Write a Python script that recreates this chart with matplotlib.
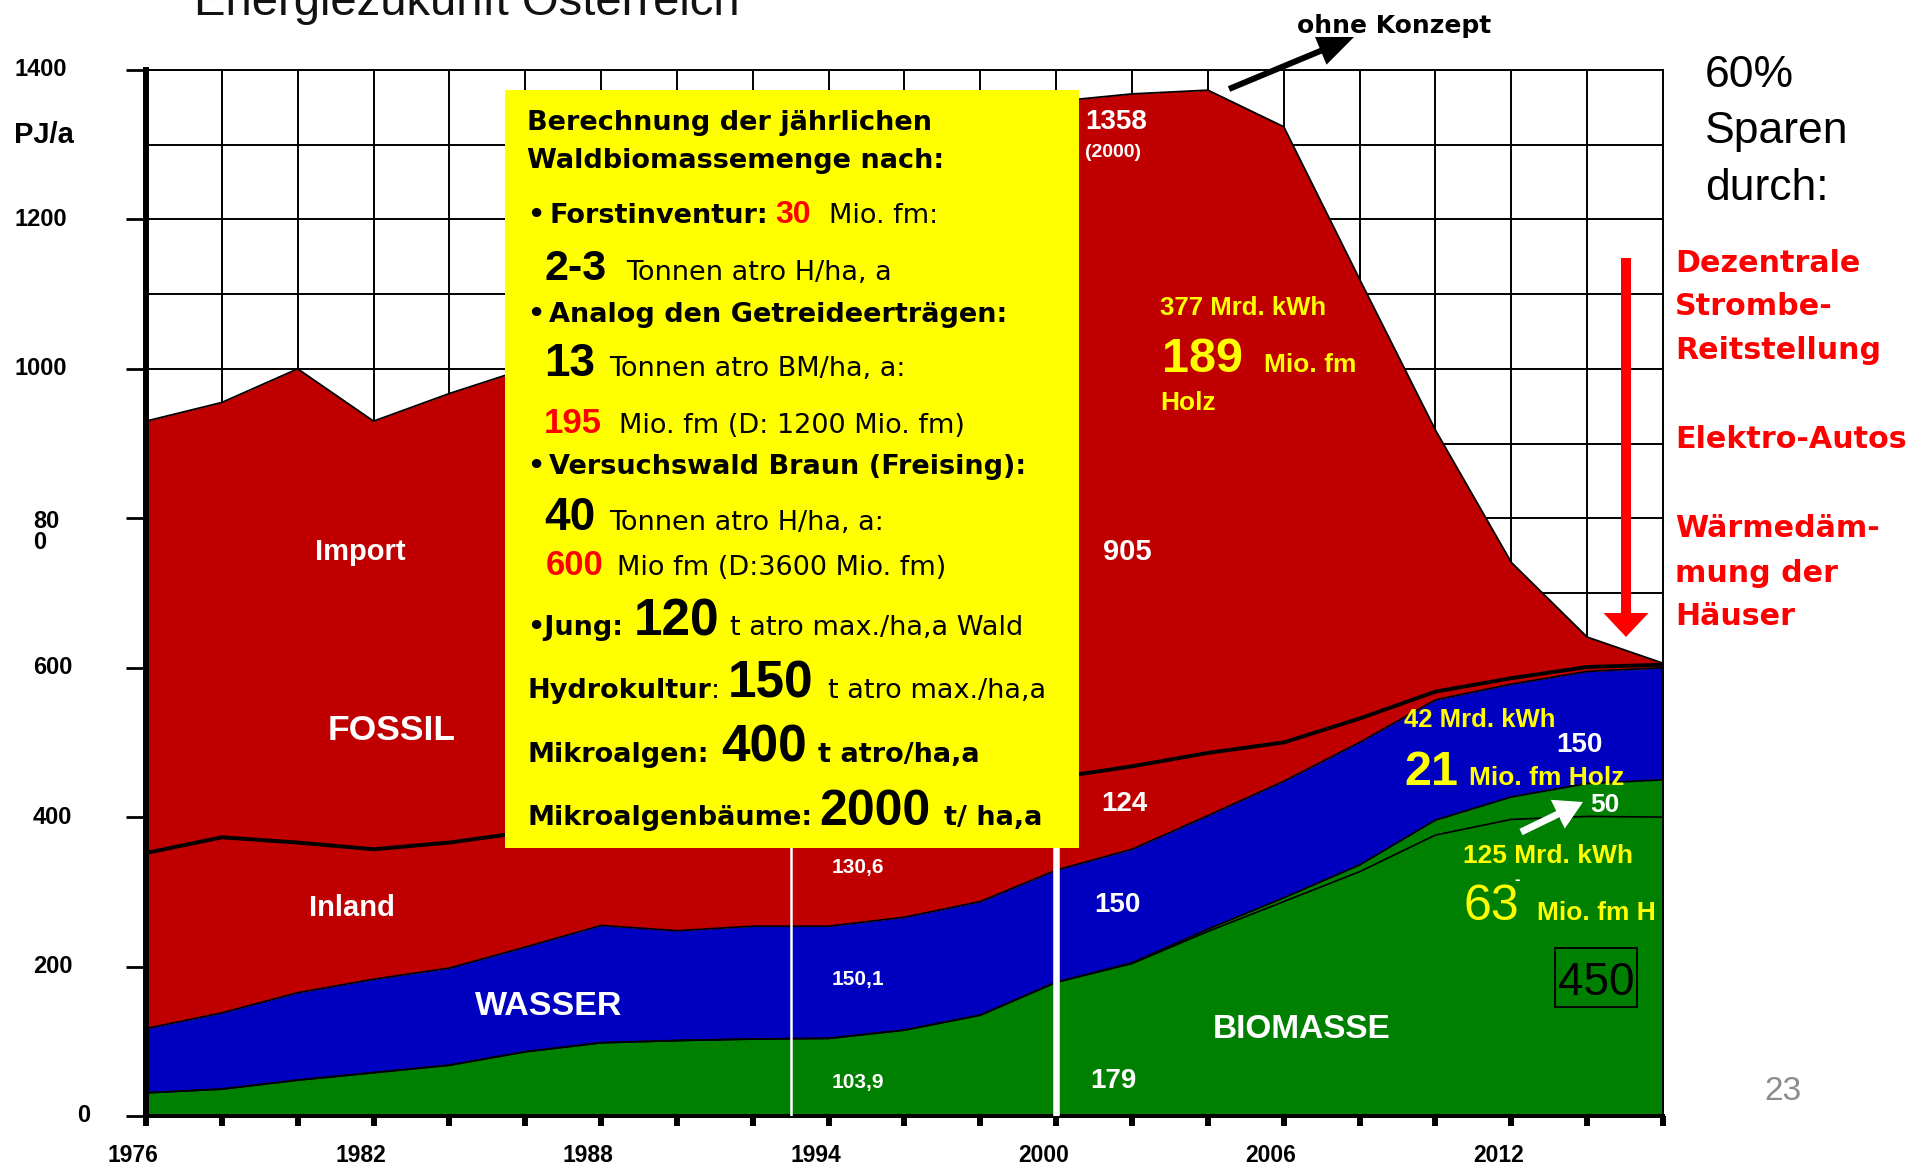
import matplotlib
matplotlib.use("Agg")
import numpy as np
import matplotlib.pyplot as plt
import matplotlib.transforms as mtransforms
from matplotlib.patches import Rectangle, FancyArrow
from matplotlib.ticker import MultipleLocator

# ---------------------------------------------------------------- data
years = [1976, 1978, 1980, 1982, 1984, 1986, 1988, 1990, 1992, 1994, 1996,
         1998, 2000, 2002, 2004, 2006, 2008, 2010, 2012, 2014, 2016]
# PJ/a per source
biomasse = [31, 36, 48, 58, 68, 86, 98, 101, 103, 103.9, 115,
            135, 179, 205, 250, 292, 336, 396, 427, 445, 450]
biomasse_zusatz = [0, 0, 0, 0, 0, 0, 0, 0, 0, 0, 0,
                   0, 0, 1, 3, 5, 9, 20, 30, 44, 50]
wasser = [86, 102, 117, 125, 130, 140, 157, 147, 151, 150.1, 151,
          152, 150, 152, 152, 156, 164, 161, 151, 150, 150]
fossil_inland = [235, 235, 201, 174, 168, 154, 133, 137, 131, 130.6, 134,
                 128, 124, 111, 84, 52, 32, 11, 8, 6, 4]
fossil_import = [578, 582, 634, 573, 601, 620, 672, 735, 795, 845, 880,
                 905, 905, 900, 887, 824, 588, 350, 155, 40, 2]

y_ticks = [0, 200, 400, 600, 800, 1000, 1200, 1400]
y_tick_labels = ["0", "200", "400", "600", "80\n0", "1000", "1200", "1400"]
x_label_years = [1976, 1982, 1988, 1994, 2000, 2006, 2012]

# ---------------------------------------------------------------- figure
W, H, DPI = 1932, 1164, 100
fig = plt.figure(figsize=(W / DPI, H / DPI), dpi=DPI, facecolor="white")
# pixel coordinates measured from the top-left corner
PX = mtransforms.Affine2D().scale(1, -1).translate(0, H).scale(1 / DPI) + fig.dpi_scale_trans

LIB = "Liberation Sans"
DJ = "DejaVu Sans"
RED_FILL, BLUE_FILL, GREEN_FILL = "#C00000", "#0000C0", "#008000"
YELLOW = "#FFFF00"

ax_left, ax_right, ax_top, ax_bottom = 146, 1663, 70, 1116
ax = fig.add_axes([ax_left / W, (H - ax_bottom) / H,
                   (ax_right - ax_left) / W, (ax_bottom - ax_top) / H])
ax.set_xlim(1976, 2016)
ax.set_ylim(0, 1400)

x = np.array(years, dtype=float)
b_basis = np.array(biomasse) - np.array(biomasse_zusatz)
b_top = np.array(biomasse, dtype=float)
w_top = b_top + np.array(wasser)
inland_top = w_top + np.array(fossil_inland)
total = inland_top + np.array(fossil_import)

ax.fill_between(x, 0, b_top, color=GREEN_FILL, lw=0, zorder=2)
ax.fill_between(x, b_top, w_top, color=BLUE_FILL, lw=0, zorder=2)
ax.fill_between(x, w_top, total, color=RED_FILL, lw=0, zorder=2)

ax.plot(x, b_basis, color="black", lw=1.2, zorder=3)
ax.plot(x, b_top, color="black", lw=1.3, zorder=3)
ax.plot(x, w_top, color="black", lw=1.3, zorder=3)
ax.plot(x, inland_top, color="black", lw=2.8, zorder=3)
ax.plot(x, total, color="black", lw=1.3, zorder=3)

# year markers
ax.vlines([1993], 0, 1000, color="white", lw=1.8, zorder=4)
ax.vlines([2000], 0, 1000, color="white", lw=4.7, zorder=4)

# grid and axes
ax.set_axisbelow(True)
ax.xaxis.set_major_locator(MultipleLocator(2))
ax.yaxis.set_major_locator(MultipleLocator(200))
ax.yaxis.set_minor_locator(MultipleLocator(100))
ax.grid(True, which="major", axis="x", color="black", lw=1.4)
ax.grid(True, which="both", axis="y", color="black", lw=1.4)
ax.tick_params(axis="x", which="major", direction="out", length=7.2, width=4.3,
               color="black", labelbottom=False)
ax.tick_params(axis="y", which="major", direction="out", length=14.4, width=2,
               color="black", labelleft=False)
ax.tick_params(axis="y", which="minor", length=0)
ax.spines["left"].set_linewidth(4.3)
ax.spines["bottom"].set_linewidth(2.9)
ax.spines["top"].set_linewidth(1.4)
ax.spines["right"].set_linewidth(1.4)


def T(xp, yp, s, size, color="black", weight="normal", family=DJ,
      ha="left", va="baseline", transform=PX, **kw):
    return fig.text(xp, yp, s, transform=transform, fontsize=size, color=color,
                    fontweight=weight, family=family, ha=ha, va=va, zorder=6, **kw)


# y tick labels
y_trans = mtransforms.blended_transform_factory(PX, ax.transData)
for val, lab in zip(y_ticks, y_tick_labels):
    if "\n" in lab:
        first, second = lab.split("\n")
        T(33, val, first, 17, weight="bold", family=LIB, va="center",
          transform=mtransforms.blended_transform_factory(
              PX, ax.transData + mtransforms.ScaledTranslation(0, -3 / DPI, fig.dpi_scale_trans)))
        T(33, val, second, 17, weight="bold", family=LIB, va="center",
          transform=mtransforms.blended_transform_factory(
              PX, ax.transData + mtransforms.ScaledTranslation(0, -24 / DPI, fig.dpi_scale_trans)))
        continue
    xl = {1: 77, 3: 33, 4: 15}[len(lab)]
    T(xl, val, lab, 17, weight="bold", family=LIB, va="center", transform=y_trans)
T(14, 135, "PJ/a", 21, weight="bold", family=LIB, va="center")

# x tick labels
x_trans = mtransforms.blended_transform_factory(
    ax.transData + mtransforms.ScaledTranslation(-13 / DPI, 0, fig.dpi_scale_trans), PX)
for yr in x_label_years:
    T(yr, 1162, str(yr), 16.5, weight="bold", family=LIB, ha="center", transform=x_trans)

# title (runs off the top edge of the page)
T(194, 15, "Energiezukunft Österreich", 34, color="#111111", family=LIB)

# area labels
T(360, 560, "Import", 21, "white", "bold", LIB, ha="center")
T(392, 740, "FOSSIL", 25.5, "white", "bold", LIB, ha="center")
T(352, 916, "Inland", 21, "white", "bold", LIB, ha="center")
T(549, 1015, "WASSER", 24.5, "white", "bold", LIB, ha="center")
T(1213, 1038, "BIOMASSE", 24, "white", "bold", LIB)


def num(v):
    s = f"{v:.1f}".replace(".", ",")
    return s[:-2] if s.endswith(",0") else s


i94, i00 = years.index(1994), years.index(2000)
T(832, 873, num(fossil_inland[i94]), 15, "white", "bold", LIB)
T(832, 985, num(wasser[i94]), 15, "white", "bold", LIB)
T(832, 1088, num(biomasse[i94]), 15, "white", "bold", LIB)

T(1085, 129, num(total[i00]), 20, "white", "bold", LIB)
T(1085, 157, "(2000)", 14, "white", "bold", LIB)
T(1103, 560, num(fossil_import[i00]), 21, "white", "bold", LIB)
T(1101, 811, num(fossil_inland[i00]), 20, "white", "bold", LIB)
T(1094, 912, num(wasser[i00]), 20, "white", "bold", LIB)
T(1090, 1088, num(biomasse[i00]), 20, "white", "bold", LIB)

T(1160, 315, "377 Mrd. kWh", 18.5, YELLOW, "bold", LIB)
T(1162, 372, "189", 35, YELLOW, "bold", LIB)
T(1264, 372, "Mio. fm", 19, YELLOW, "bold", LIB)
T(1160, 410, "Holz", 19, YELLOW, "bold", LIB)

T(1404, 727, "42 Mrd. kWh", 18.5, YELLOW, "bold", LIB)
T(1404, 785, "21", 35, YELLOW, "bold", LIB)
T(1469, 785, "Mio. fm Holz", 19, YELLOW, "bold", LIB)
T(1556, 752, num(wasser[-1]), 20, "white", "bold", LIB)
T(1590, 812, num(biomasse_zusatz[-1]), 19, "white", "bold", LIB)
fig.add_artist(FancyArrow(1521, 832, 62, -30, width=7, head_width=32, head_length=28,
                          length_includes_head=True, color="white", lw=0,
                          transform=PX, zorder=6))
T(1463, 863, "125 Mrd. kWh", 19, YELLOW, "bold", LIB)
T(1463, 920, "63", 36, YELLOW, "normal", LIB)
T(1514, 884, "-", 12, "white", "bold", LIB)
T(1537, 920, "Mio. fm H", 19, YELLOW, "bold", LIB)
fig.add_artist(Rectangle((1555, 948), 82, 59, fill=False, ec="black", lw=1.3,
                         transform=PX, zorder=6))
T(1596, 995, num(biomasse[-1]), 33, "black", "normal", LIB, ha="center")

# "ohne Konzept" arrow
T(1297, 33, "ohne Konzept", 18, "black", "bold", DJ)
fig.add_artist(FancyArrow(1229, 89, 125, -52, width=6, head_width=30, head_length=36,
                          length_includes_head=True, color="black", lw=0,
                          transform=PX, zorder=6))

# right-hand notes
for yb, s in zip([87, 143, 200], ["60%", "Sparen", "durch:"]):
    T(1705, yb, s, 32, "black", "normal", LIB)
for yb, s in zip([272, 315, 359, 448, 537, 582, 625],
                 ["Dezentrale", "Strombe-", "Reitstellung", "Elektro-Autos",
                  "Wärmedäm-", "mung der", "Häuser"]):
    T(1675, yb, s, 21.7, "#FF0000", "bold", DJ)
fig.add_artist(FancyArrow(1626, 258, 0, 379, width=10, head_width=45, head_length=24,
                          length_includes_head=True, color="#FF0000", lw=0,
                          transform=PX, zorder=6))

T(1764, 1100, "23", 24, "#8c8c8c", "normal", LIB)

# ---------------------------------------------------------------- yellow info box
fig.add_artist(Rectangle((505, 90), 574, 758, fc=YELLOW, ec="none",
                         transform=PX, zorder=5))

renderer = fig.canvas.get_renderer()


def line(yb, parts):
    """Place text runs on one baseline; each run starts at its x or after the previous run."""
    prev = None
    for xp, s, size, weight, color, family, gap in parts:
        if prev is not None:
            xp = max(xp, prev + gap)
        t = T(xp, yb, s, size, color, weight, family)
        prev = t.get_window_extent(renderer).x1


BOX = 19.5
RED = "#FF0000"
line(130, [(527, "Berechnung der jährlichen", BOX, "bold", "black", DJ, 5)])
line(168, [(527, "Waldbiomassemenge nach:", BOX, "bold", "black", DJ, 5)])
line(223, [(527, "•", BOX, "bold", "black", DJ, 5),
           (548, "Forstinventur:", BOX, "bold", "black", DJ, 5),
           (775, "30", 23, "bold", RED, LIB, 5),
           (829, "Mio. fm:", BOX, "normal", "black", DJ, 5)])
line(280, [(544, "2-3", 31, "bold", "black", LIB, 5),
           (626, "Tonnen atro H/ha, a", BOX, "normal", "black", DJ, 5)])
line(322, [(527, "•", BOX, "bold", "black", DJ, 5),
           (548, "Analog den Getreideerträgen:", BOX, "bold", "black", DJ, 5)])
line(376, [(544, "13", 33, "bold", "black", LIB, 5),
           (609, "Tonnen atro BM/ha, a:", BOX, "normal", "black", DJ, 5)])
line(433, [(544, "195", 25, "bold", RED, LIB, 5),
           (619, "Mio. fm (D: 1200 Mio. fm)", BOX, "normal", "black", DJ, 5)])
line(474, [(527, "•", BOX, "bold", "black", DJ, 5),
           (548, "Versuchswald Braun (Freising):", BOX, "bold", "black", DJ, 5)])
line(530, [(544, "40", 33, "bold", "black", LIB, 5),
           (609, "Tonnen atro H/ha, a:", BOX, "normal", "black", DJ, 5)])
line(575, [(546, "600", 25, "bold", RED, LIB, 5),
           (617, "Mio fm (D:3600 Mio. fm)", BOX, "normal", "black", DJ, 5)])
line(635, [(527, "•Jung:", BOX, "bold", "black", DJ, 5),
           (634, "120", 37, "bold", "black", LIB, 5),
           (730, "t atro max./ha,a Wald", BOX, "normal", "black", DJ, 5)])
line(698, [(527, "Hydrokultur", BOX, "bold", "black", DJ, 0),
           (0, ":", BOX, "normal", "black", DJ, 0),
           (726, "150", 37, "bold", "black", LIB, 8),
           (828, "t atro max./ha,a", BOX, "normal", "black", DJ, 5)])
line(762, [(527, "Mikroalgen:", BOX, "bold", "black", DJ, 5),
           (721, "400", 37, "bold", "black", LIB, 5),
           (818, "t atro/ha,a", BOX, "bold", "black", DJ, 5)])
line(825, [(527, "Mikroalgenbäume:", BOX, "bold", "black", DJ, 5),
           (819, "2000", 36, "bold", "black", LIB, 5),
           (944, "t/ ha,a", BOX, "bold", "black", DJ, 5)])

fig.savefig("out.png", dpi=DPI, facecolor="white")
